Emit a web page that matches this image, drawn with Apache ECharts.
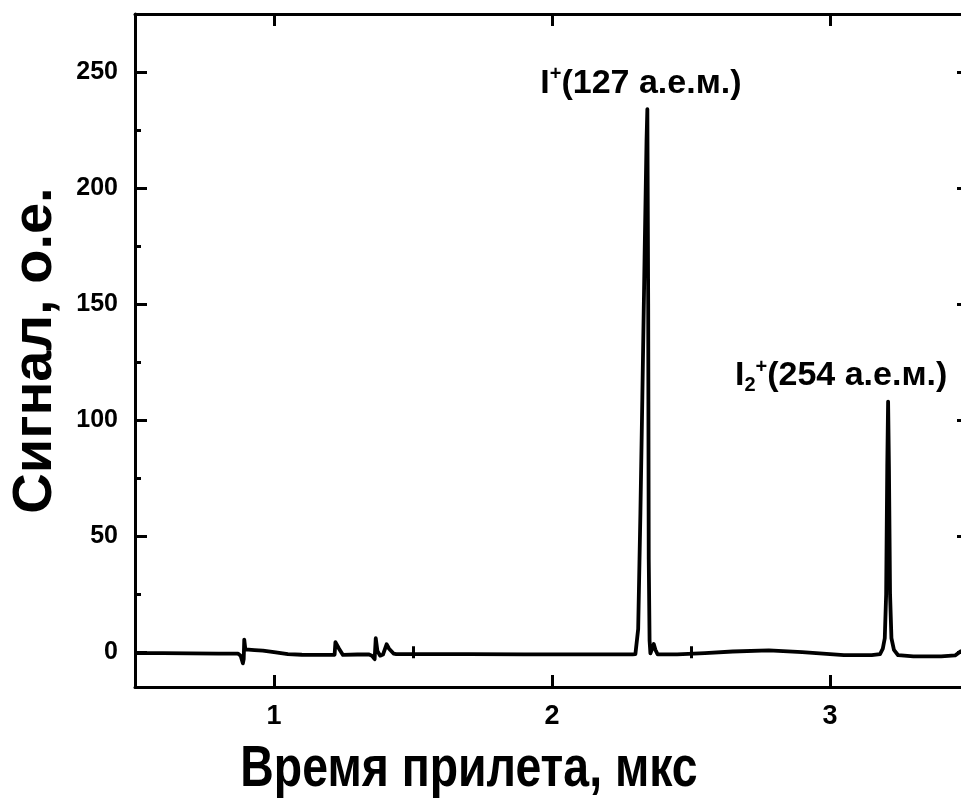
<!DOCTYPE html>
<html>
<head>
<meta charset="utf-8">
<script src="https://cdn.jsdelivr.net/npm/echarts@6/dist/echarts.min.js"></script>
<style>
  html, body { margin: 0; padding: 0; background: #fff; }
  #chart { width: 961px; height: 809px; }
</style>
</head>
<body>
<div id="chart"></div>
<script>
// time of flight, mks
var timeUs = [
  0.50, 0.60, 0.70, 0.80, 0.870, 0.880, 0.888, 0.891, 0.893, 0.897, 0.903, 0.93, 0.96, 1.00, 1.05, 1.10, 1.15, 1.20,
  1.218, 1.221, 1.234, 1.248, 1.30, 1.34, 1.352, 1.362, 1.366, 1.372, 1.382, 1.392, 1.405, 1.414, 1.43, 1.44, 1.50, 1.70,
  1.90, 2.10, 2.29, 2.300, 2.304, 2.310, 2.318, 2.325, 2.333, 2.340, 2.343, 2.346, 2.348, 2.351, 2.354, 2.360, 2.366, 2.372,
  2.380, 2.45, 2.55, 2.65, 2.78, 2.90, 3.05, 3.15, 3.180, 3.190, 3.197, 3.202, 3.206, 3.209, 3.212, 3.216, 3.221, 3.230,
  3.245, 3.30, 3.40, 3.45, 3.47, 3.50
];
// signal, a.u.
var signal = [
  -0.4, -0.4, -0.5, -0.6, -0.6, -1.5, -4.8, -3.0, 5.4, 1.2, 0.4, 0.9, 0.7, 0.0, -0.8, -1.1, -1.2, -1.2,
  -1.1, 4.3, 1.5, -1.2, -1.0, -0.9, -1.5, -3.0, 6.0, 0.5, -1.5, -1.0, 3.4, 1.5, -0.6, -0.8, -0.8, -0.8,
  -0.9, -0.9, -0.9, -0.8, 0.0, 10, 60, 110, 170, 220, 234, 150, 40, 5, -0.5, 0.0, 3.5, 1.0,
  -0.9, -0.9, -0.4, 0.3, 0.8, 0.0, -1.3, -1.3, -0.8, 1.5, 6, 25, 80, 108, 80, 25, 6, 1.0,
  -1.3, -1.8, -1.8, -1.4, 0.4, 1.0
];

var xMajor = [1, 2, 3];
var xMinor = [1.5, 2.5];
var yMajor = [0, 50, 100, 150, 200, 250];
var yMinor = [25, 75, 125, 175, 225];

// peak annotations
var peakLabels = ['{m|I}{sup|+}{m|(127 а.е.м.)}', '{m|I}{sub|2}{sup|+}{m|(254 а.е.м.)}'];
var peakLabelX = [2.320, 3.040];
var peakLabelY = [245, 119];

var xTitle = 'Время прилета, мкс';
var yTitle = 'Сигнал, о.е.';

var font = "'Liberation Sans', Arial, sans-serif";

var chart = echarts.init(document.getElementById('chart'));

var lineData = timeUs.map(function (t, i) { return [t, signal[i]]; });
var labelData = peakLabelX.map(function (x, i) {
  return { value: [x, peakLabelY[i]], label: { formatter: peakLabels[i] } };
});

function tickAxis(base, pos, ticks, len, extra) {
  var a = {
    type: 'value',
    position: pos,
    min: base.min,
    max: base.max,
    axisLine: { show: false, lineStyle: { color: '#000', width: 3 } },
    axisTick: { show: true, inside: true, length: len, customValues: ticks, lineStyle: { color: '#000', width: 3 } },
    axisLabel: { show: false },
    splitLine: { show: false }
  };
  return Object.assign(a, extra || {});
}

var xr = { min: 0.5, max: 3.5 };
var yr = { min: -15, max: 275 };

var option = {
  backgroundColor: '#fff',
  animation: false,
  grid: { left: 135, right: -8, top: 14, bottom: 122, containLabel: false, outerBoundsMode: 'none' },
  // x title is a little condensed in the original, so draw it as scaled text
  graphic: [
    {
      type: 'text',
      x: 469,
      y: 770,
      scaleX: 0.8,
      style: {
        text: xTitle,
        x: 0,
        y: 0,
        textAlign: 'center',
        textVerticalAlign: 'middle',
        font: 'bold 58px ' + font,
        fill: '#000'
      }
    }
  ],
  xAxis: [
    {
      type: 'value',
      position: 'bottom',
      min: xr.min,
      max: xr.max,
      axisLine: { show: true, onZero: false, lineStyle: { color: '#000', width: 3 } },
      axisTick: { show: true, inside: true, length: 12, customValues: xMajor, lineStyle: { color: '#000', width: 3 } },
      axisLabel: { show: true, customValues: xMajor, margin: 16, color: '#000', fontSize: 27, fontWeight: 'bold', fontFamily: font },
      splitLine: { show: false }
    },
    tickAxis(xr, 'bottom', xMinor, 6),
    tickAxis(xr, 'top', xMajor, 12, { axisLine: { show: true, onZero: false, lineStyle: { color: '#000', width: 3 } } }),
    tickAxis(xr, 'top', xMinor, 6)
  ],
  yAxis: [
    {
      type: 'value',
      position: 'left',
      min: yr.min,
      max: yr.max,
      axisLine: { show: true, onZero: false, lineStyle: { color: '#000', width: 3 } },
      axisTick: { show: true, inside: true, length: 12, customValues: yMajor, lineStyle: { color: '#000', width: 3 } },
      axisLabel: { show: true, customValues: yMajor, margin: 17, color: '#000', fontSize: 25, fontWeight: 'bold', fontFamily: font },
      splitLine: { show: false },
      name: yTitle,
      nameLocation: 'middle',
      nameGap: 71,
      nameTextStyle: { color: '#000', fontSize: 56, fontWeight: 'bold', fontFamily: font }
    },
    tickAxis(yr, 'left', yMinor, 6),
    tickAxis(yr, 'right', yMajor, 12, { axisLine: { show: true, onZero: false, lineStyle: { color: '#000', width: 3 } } }),
    tickAxis(yr, 'right', yMinor, 6)
  ],
  series: [
    {
      name: 'signal',
      type: 'line',
      data: lineData,
      showSymbol: false,
      symbol: 'none',
      lineStyle: { color: '#000', width: 3.8, join: 'round' },
      z: 3
    },
    {
      name: 'labels',
      type: 'scatter',
      data: labelData,
      symbolSize: 0,
      silent: true,
      itemStyle: { opacity: 1 },
      label: {
        show: true,
        position: 'inside',
        color: '#000',
        opacity: 1,
        rich: {
          m: { fontSize: 34, fontWeight: 'bold', fontFamily: font, color: '#000', lineHeight: 38 },
          sup: { fontSize: 20, fontWeight: 'bold', fontFamily: font, color: '#000', lineHeight: 16, verticalAlign: 'top' },
          sub: { fontSize: 20, fontWeight: 'bold', fontFamily: font, color: '#000', lineHeight: 16, verticalAlign: 'bottom' }
        }
      },
      z: 4
    }
  ]
};

chart.setOption(option);
</script>
</body>
</html>
